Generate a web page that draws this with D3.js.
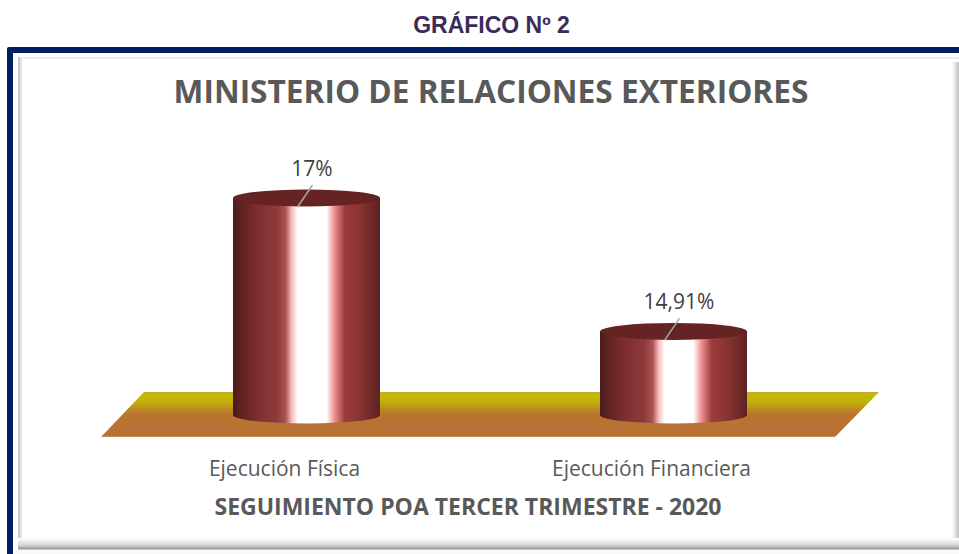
<!DOCTYPE html>
<html><head><meta charset="utf-8">
<script src="https://cdn.jsdelivr.net/npm/d3@7/dist/d3.min.js"></script>
<style>html,body{margin:0;padding:0;background:#fff;overflow:hidden}svg{display:block}</style>
</head><body><svg id="c" width="959" height="554"></svg>
<script>
const categories = ["Ejecución Física", "Ejecución Financiera"];
const values = [17, 14.91];
const valueLabels = ["17%", "14,91%"];
const heading = "GRÁFICO Nº 2";
const chartTitle = "MINISTERIO DE RELACIONES EXTERIORES";
const axisTitle = "SEGUIMIENTO POA TERCER TRIMESTRE - 2020";
const barStops = [[0,"#4a1a1a"],[.05,"#5e2222"],[.16,"#7c2d2d"],[.3,"#8f3a3a"],[.36,"#ab5656"],[.395,"#f6b4b4"],[.44,"#ffffff"],[.635,"#ffffff"],[.69,"#ee9090"],[.76,"#9c3c3c"],[.87,"#883232"],[1,"#5e2222"]];

const svg = d3.select("#c");
const defs = svg.append("defs");
const bg = defs.append("linearGradient").attr("id","cyl");
barStops.forEach(s=>bg.append("stop").attr("offset",s[0]).attr("stop-color",s[1]));
const fg = defs.append("linearGradient").attr("id","floor").attr("x1",0).attr("x2",0).attr("y1",0).attr("y2",1);
[[0,"#c8a048"],[.05,"#c4bb05"],[.2,"#c2b208"],[.5,"#b9742f"],[.97,"#b87038"],[1,"#d89a60"]].forEach(s=>fg.append("stop").attr("offset",s[0]).attr("stop-color",s[1]));
const sh = defs.append("linearGradient").attr("id","shB").attr("x1",0).attr("x2",0).attr("y1",0).attr("y2",1);
[[0,"#ffffff"],[.6,"#d6d6d6"],[.9,"#9a9a9a"],[1,"#e8e8e8"]].forEach(s=>sh.append("stop").attr("offset",s[0]).attr("stop-color",s[1]));
const shL = defs.append("linearGradient").attr("id","shL");
[[0,"#bdbdbd"],[1,"#ffffff"]].forEach(s=>shL.append("stop").attr("offset",s[0]).attr("stop-color",s[1]));
const shR = defs.append("linearGradient").attr("id","shR");
[[0,"#ffffff"],[1,"#c0c0c0"]].forEach(s=>shR.append("stop").attr("offset",s[0]).attr("stop-color",s[1]));

svg.append("text").attr("x",491.5).attr("y",33).attr("text-anchor","middle")
  .attr("font-family","Liberation Sans").attr("font-weight",700).attr("font-size",23).attr("fill","#3b2a5a").text(heading);

// frame
svg.append("rect").attr("x",7).attr("y",47).attr("width",960).attr("height",520).attr("rx",2).attr("fill","#002060");
svg.append("rect").attr("x",13).attr("y",53).attr("width",960).attr("height",501).attr("fill","#fff");
svg.append("rect").attr("x",18).attr("y",57).attr("width",941).attr("height",2).attr("fill","#ececec");
svg.append("rect").attr("x",18).attr("y",57).attr("width",5).attr("height",490).attr("fill","url(#shL)");
svg.append("rect").attr("x",952).attr("y",62).attr("width",7).attr("height",480).attr("fill","url(#shR)");
svg.append("rect").attr("x",18).attr("y",538).attr("width",941).attr("height",12).attr("fill","url(#shB)");
svg.append("rect").attr("x",13).attr("y",550).attr("width",946).attr("height",4).attr("fill","#fafafa");

const x = d3.scaleBand().domain(categories).range([123,857]);
const y = d3.scaleLinear().domain([13.6,17]).range([415,198]);
const bw = 147, ry = 8.5;
const cx = d=>x(d)+x.bandwidth()/2;

// floor
svg.append("path").attr("d",d3.line()([[144,392],[879,392],[835,437],[101,437]])+"Z").attr("fill","url(#floor)");

const data = categories.map((c,i)=>({c,v:values[i],l:valueLabels[i]}));
const g = svg.selectAll("g.bar").data(data).join("g").attr("class","bar");
g.append("path").attr("fill","url(#cyl)").attr("d",d=>{
  const c=cx(d.c), t=y(d.v), b=y.range()[0];
  return `M${c-bw/2},${t}L${c-bw/2},${b}A${bw/2},${ry} 0 0 0 ${c+bw/2},${b}L${c+bw/2},${t}Z`;
});
g.append("ellipse").attr("cx",d=>cx(d.c)).attr("cy",d=>y(d.v)).attr("rx",bw/2).attr("ry",ry).attr("fill","#652323");
g.append("line").attr("stroke","#a6a6a6").attr("stroke-width",1.5)
  .attr("x1",d=>cx(d.c)-9).attr("y1",d=>y(d.v)+9).attr("x2",d=>cx(d.c)+6).attr("y2",d=>y(d.v)-13);
g.append("text").attr("x",d=>cx(d.c)+5.5).attr("y",d=>y(d.v)-22).attr("text-anchor","middle")
  .attr("font-family","Open Sans").attr("font-size",21).attr("fill","#404040").text(d=>d.l);
g.append("text").attr("x",d=>cx(d.c)-22).attr("y",476).attr("text-anchor","middle")
  .attr("font-family","Open Sans").attr("font-size",21).attr("fill","#595959").text(d=>d.c);

svg.append("text").attr("x",491).attr("y",103).attr("text-anchor","middle")
  .attr("font-family","Open Sans").attr("font-weight",700).attr("font-size",31.65).attr("fill","#595959").text(chartTitle);
svg.append("text").attr("x",468).attr("y",515).attr("text-anchor","middle")
  .attr("font-family","Open Sans").attr("font-weight",700).attr("font-size",23).attr("fill","#595959").text(axisTitle);
</script></body></html>
